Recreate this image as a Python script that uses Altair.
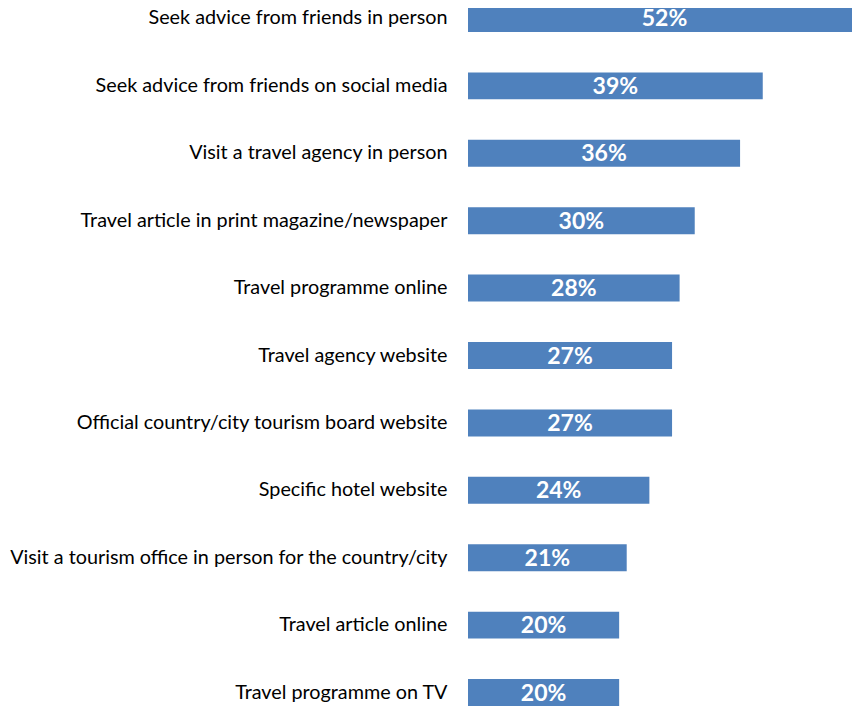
import altair as alt
import pandas as pd

categories = [
    "Seek advice from friends in person",
    "Seek advice from friends on social media",
    "Visit a travel agency in person",
    "Travel article in print magazine/newspaper",
    "Travel programme online",
    "Travel agency website",
    "Official country/city tourism board website",
    "Specific hotel website",
    "Visit a tourism office in person for the country/city",
    "Travel article online",
    "Travel programme on TV",
]
values = [52, 39, 36, 30, 28, 27, 27, 24, 21, 20, 20]

df = pd.DataFrame({"cat": categories, "val": values})
df["mid"] = df["val"] / 2
df["lbl"] = df["val"].astype(str) + "%"

yscale = alt.Scale(domain=categories, range=[-3, 698], paddingInner=0.6, paddingOuter=0)
xscale = alt.Scale(domain=[0, 52], range=[0, 393], nice=False, zero=True)

base = alt.Chart(df)

bars = base.mark_bar(color="#4F81BD").encode(
    x=alt.X("val:Q", scale=xscale, axis=None),
    y=alt.Y("cat:N", scale=yscale, sort=categories, title=None,
            axis=alt.Axis(domain=False, ticks=False, labelPadding=21, labelFont="Lato",
                          labelFontSize=19.8, labelColor="#000000", labelLimit=460)),
)

text = base.mark_text(color="white", fontWeight="bold", font="Lato", fontSize=23, dy=1).encode(
    x=alt.X("mid:Q", scale=xscale),
    y=alt.Y("cat:N", scale=yscale, sort=categories),
    text="lbl:N",
)

chart = (bars + text).properties(
    width=384, height=698,
    autosize=alt.AutoSizeParams(type="none"),
    padding={"left": 460, "top": 0, "right": 0, "bottom": 0},
).configure_view(stroke=None)

chart.save("out.html", embed_options={"renderer": "svg", "actions": False})
